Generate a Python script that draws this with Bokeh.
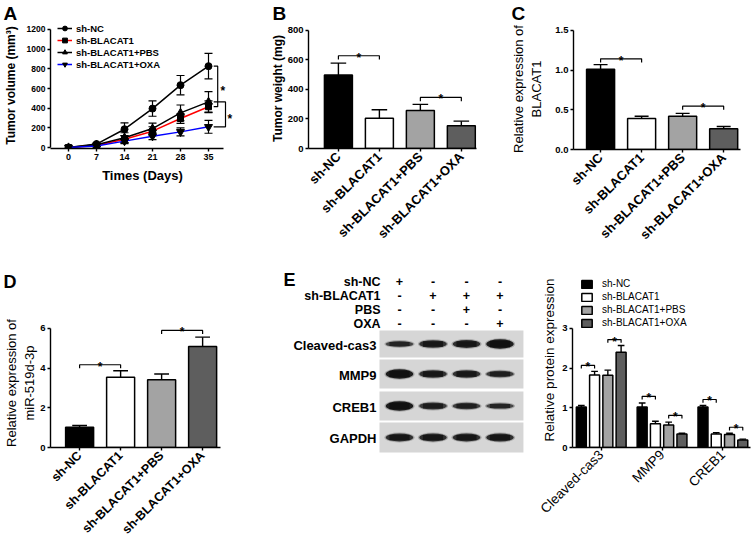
import math
from bokeh.plotting import figure
from bokeh.models import (Range1d, FixedTicker, Legend, LegendItem,
                          PrintfTickFormatter, ColumnDataSource)
from bokeh.layouts import row, column
from bokeh.embed import file_html
from bokeh.resources import INLINE
from bokeh.core.properties import value

FONT = "Liberation Sans"

# ------------------------------------------------------------------ data
days = [0, 7, 14, 21, 28, 35]
vol_nc = [0, 35, 186, 396, 634, 827]
vol_nc_err = [0, 12, 65, 78, 98, 130]
vol_bl = [0, 20, 85, 166, 295, 415]
vol_bl_err = [0, 8, 35, 45, 50, 60]
vol_pbs = [0, 28, 100, 193, 352, 464]
vol_pbs_err = [0, 10, 50, 55, 80, 105]
vol_oxa = [0, 15, 65, 115, 159, 210]
vol_oxa_err = [0, 5, 25, 35, 40, 65]

groups = ["sh-NC", "sh-BLACAT1", "sh-BLACAT1+PBS", "sh-BLACAT1+OXA"]
weight = [496, 205, 257, 153]
weight_err = [81, 57, 41, 32]
blacat1 = [1.01, 0.39, 0.42, 0.26]
blacat1_err = [0.06, 0.03, 0.035, 0.03]
mir519d = [1.02, 3.54, 3.41, 5.09]
mir519d_err = [0.09, 0.33, 0.29, 0.47]

proteins = ["Cleaved-cas3", "MMP9", "CREB1"]
prot_nc = [1.02, 1.02, 1.02]
prot_nc_err = [0.04, 0.10, 0.04]
prot_bl = [1.83, 0.60, 0.34]
prot_bl_err = [0.09, 0.06, 0.03]
prot_pbs = [1.82, 0.57, 0.33]
prot_pbs_err = [0.13, 0.07, 0.03]
prot_oxa = [2.40, 0.34, 0.19]
prot_oxa_err = [0.17, 0.02, 0.02]

# significance brackets: (bar a, bar b, bracket height)
weight_sig = [(0, 1, 627), (2, 3, 345)]
blacat1_sig = [(0, 1, 1.143), (2, 3, 0.546)]
mir_sig = [(0, 1, 4.17), (2, 3, 5.9)]
# (protein group, bar a, bar b, bracket height)
prot_sig = [(0, 0, 1, 2.07), (0, 2, 3, 2.72), (1, 0, 1, 1.29),
            (1, 2, 3, 0.81), (2, 0, 1, 1.21), (2, 2, 3, 0.51)]

# western blot
blot_conditions = ["sh-NC", "sh-BLACAT1", "PBS", "OXA"]
blot_signs = [["+", "-", "-", "-"],
              ["-", "+", "+", "+"],
              ["-", "-", "+", "-"],
              ["-", "-", "-", "+"]]
blot_proteins = ["Cleaved-cas3", "MMP9", "CREB1", "GAPDH"]
band_cas3 = [0.45, 0.72, 0.75, 1.0]
band_mmp9 = [1.0, 0.72, 0.7, 0.55]
band_creb1 = [1.0, 0.6, 0.55, 0.42]
band_gapdh = [0.75, 0.75, 0.75, 0.78]

panel_letters = ["A", "B", "C", "D", "E"]

# ------------------------------------------------------------------ styles
BAR_COLORS = ["black", "white", "#a3a3a3", "#5e5e5e"]


def bare_fig(w, h, xr, yr):
    p = figure(width=w, height=h, x_range=Range1d(*xr), y_range=Range1d(*yr),
               output_backend="svg", toolbar_location=None, min_border=0,
               x_axis_location=None, y_axis_location=None, frame_align=False)
    p.outline_line_color = None
    p.xgrid.visible = False
    p.ygrid.visible = False
    return p


def make_panel(box, frame, xr, yr):
    x0, y0, w, h = box
    fl, ft, fr, fb = frame
    p = figure(width=w, height=h, x_range=Range1d(*xr), y_range=Range1d(*yr),
               output_backend="svg", toolbar_location=None, frame_align=False,
               min_border_left=fl - x0, min_border_right=x0 + w - fr,
               min_border_top=ft - y0, min_border_bottom=y0 + h - fb)
    p.outline_line_color = None
    p.xgrid.visible = False
    p.ygrid.visible = False
    return p


def letter(p, x, y, text, size="19px"):
    p.text(x=[x], y=[y], text=[text], text_align="left", text_baseline="middle",
           text_font=value(FONT), text_font_size=value(size), text_font_style="bold",
           text_color="black")


def style_axis(ax, tick_size, tick_bold=True):
    ax.axis_line_width = 1.4
    ax.axis_line_color = "black"
    ax.major_tick_line_width = 1.4
    ax.major_tick_line_color = "black"
    ax.major_tick_in = 0
    ax.major_tick_out = 3
    ax.minor_tick_line_color = None
    ax.major_label_text_color = "black"
    ax.major_label_text_font = FONT
    ax.major_label_text_font_size = tick_size
    ax.major_label_text_font_style = "bold" if tick_bold else "normal"
    ax.major_label_standoff = 2
    ax.axis_label_text_color = "black"
    ax.axis_label_text_font = FONT


def draw_bars(p, xs, vals, errs, colors, width, cap):
    tops = [v + e for v, e in zip(vals, errs)]
    p.segment(x0=xs, y0=vals, x1=xs, y1=tops, line_color="black", line_width=1.4)
    p.segment(x0=[x - cap for x in xs], y0=tops, x1=[x + cap for x in xs], y1=tops,
              line_color="black", line_width=1.4)
    src = ColumnDataSource(dict(x=xs, top=vals, color=colors))
    return p.vbar(x="x", top="top", width=width, bottom=0, fill_color="color",
                  line_color="black", line_width=1.5, source=src)


def star(p, x, y, size="12px", yoff=2):
    p.text(x=[x], y=[y], text=["*"], text_align="center", text_baseline="alphabetic",
           y_offset=yoff, text_font=value(FONT), text_font_size=value(size),
           text_font_style="bold", text_color="black")


def bracket(p, x0, x1, y, drop, size="12px"):
    p.line([x0, x0, x1, x1], [y - drop, y, y, y - drop], line_color="black", line_width=1.2)
    star(p, (x0 + x1) / 2, y, size)


def bar_panel(box, frame, xr, yr, ybounds, yticks, vals, errs, sig, drop, cap,
              ylabel, ylabel_bold, ylabel_size, ylabel_standoff, xlab_size, fmt=None):
    p = make_panel(box, frame, xr, yr)
    xs = list(range(len(groups)))
    draw_bars(p, xs, vals, errs, BAR_COLORS, 0.683, cap)
    for a, b, h in sig:
        bracket(p, xs[a], xs[b], h, drop)
    style_axis(p.yaxis[0], "9.5px")
    style_axis(p.xaxis[0], xlab_size)
    p.yaxis.ticker = FixedTicker(ticks=yticks)
    p.yaxis.bounds = ybounds
    if fmt:
        p.yaxis.formatter = PrintfTickFormatter(format=fmt)
    p.xaxis.ticker = FixedTicker(ticks=xs)
    p.xaxis.major_label_overrides = {x: g for x, g in zip(xs, groups)}
    p.xaxis.major_label_orientation = math.pi / 4
    p.xaxis.major_label_standoff = 3
    p.yaxis.axis_label = ylabel
    p.yaxis.axis_label_text_font_style = "bold" if ylabel_bold else "normal"
    p.yaxis.axis_label_text_font_size = ylabel_size
    p.yaxis.axis_label_standoff = ylabel_standoff
    return p


# ------------------------------------------------------------------ top strip with letters A-C
strip1 = bare_fig(753, 22, (0, 753), (22, 0))
letter(strip1, 3, 12.5, panel_letters[0])
letter(strip1, 272, 12.5, panel_letters[1])
letter(strip1, 511, 12.5, panel_letters[2])

# ------------------------------------------------------------------ A: tumour volume
pA = make_panel((0, 22, 250, 248), (50, 22, 234, 148), (-4.5, 41.5), (-10, 1271))
vol_series = [
    (vol_nc, vol_nc_err, "black", "circle", 7),
    (vol_bl, vol_bl_err, "red", "square", 6),
    (vol_pbs, vol_pbs_err, "black", "triangle", 8),
    (vol_oxa, vol_oxa_err, "blue", "inverted_triangle", 8),
]
legend_items = []
for name, (v, e, col, mk, sz) in zip(groups, vol_series):
    xe = [d for d, ee in zip(days, e) if ee > 0]
    lo = [vv - ee for vv, ee in zip(v, e) if ee > 0]
    hi = [vv + ee for vv, ee in zip(v, e) if ee > 0]
    pA.segment(x0=xe, y0=lo, x1=xe, y1=hi, line_color="black", line_width=1.2)
    for yy in (lo, hi):
        pA.segment(x0=[x - 1 for x in xe], y0=yy, x1=[x + 1 for x in xe], y1=yy,
                   line_color="black", line_width=1.2)
    lr = pA.line(days, v, line_color=col, line_width=1.5)
    sr = pA.scatter(days, v, marker=mk, size=sz, fill_color="black", line_color="black")
    legend_items.append(LegendItem(label=name, renderers=[lr, sr]))

# significance brackets at day 35
bx1, bx2, tick_x = 37.3, 39.25, 36.3
pA.line([tick_x, bx1, bx1, tick_x], [vol_nc[-1], vol_nc[-1], vol_bl[-1], vol_bl[-1]],
        line_color="black", line_width=1.2)
pA.line([tick_x, bx2, bx2, tick_x], [vol_pbs[-1], vol_pbs[-1], vol_oxa[-1], vol_oxa[-1]],
        line_color="black", line_width=1.2)
star(pA, bx1 + 1.3, (vol_nc[-1] + vol_bl[-1]) / 2, "12px", 5)
star(pA, bx2 + 1.1, (vol_pbs[-1] + vol_oxa[-1]) / 2, "12px", 5)

legA = Legend(items=legend_items, location=(7, 78), padding=0, margin=0, spacing=0,
              label_height=12, glyph_height=12, glyph_width=15, label_standoff=4,
              border_line_alpha=0, background_fill_alpha=0,
              label_text_font=FONT, label_text_font_size="9.5px",
              label_text_font_style="bold", label_text_color="black")
pA.add_layout(legA)
style_axis(pA.xaxis[0], "9px")
style_axis(pA.yaxis[0], "8.5px")
pA.xaxis.ticker = FixedTicker(ticks=days)
pA.xaxis.bounds = (-4.5, 38.75)
pA.yaxis.ticker = FixedTicker(ticks=[0, 200, 400, 600, 800, 1000, 1200])
pA.yaxis.bounds = (0, 1200)
pA.xaxis.axis_label = "Times (Days)"
pA.xaxis.axis_label_text_font_size = "13px"
pA.xaxis.axis_label_text_font_style = "bold"
pA.xaxis.axis_label_standoff = 5
pA.yaxis.axis_label = "Tumor volume (mm³)"
pA.yaxis.axis_label_text_font_size = "12px"
pA.yaxis.axis_label_text_font_style = "bold"
pA.yaxis.axis_label_standoff = 6

# ------------------------------------------------------------------ B: tumour weight
pB = bar_panel((250, 22, 240, 248), (308, 28, 476, 148), (-0.73, 3.37), (0, 811),
               (0, 800), [0, 200, 400, 600, 800], weight, weight_err, weight_sig,
               25, 0.19, "Tumor weight (mg)", True, "12px", 0, "13px")

# ------------------------------------------------------------------ C: BLACAT1
pC = bar_panel((490, 22, 263, 248), (573, 28, 740, 149), (-0.66, 3.41), (0, 1.525),
               (0, 1.5), [0, 0.5, 1.0, 1.5], blacat1, blacat1_err, blacat1_sig,
               0.045, 0.17, "Relative expression of\nBLACAT1", False, "13px", 8,
               "13px", "%.1f")

# ------------------------------------------------------------------ D: miR-519d-3p
stripD = bare_fig(270, 20, (0, 270), (290, 270))
letter(stripD, 3, 281, panel_letters[3], "18px")
pD = bar_panel((0, 290, 270, 254), (50, 318, 220, 447), (-0.71, 3.436), (0, 6.5),
               (0, 6), [0, 2, 4, 6], mir519d, mir519d_err, mir_sig,
               0.18, 0.18, "Relative expression of\nmiR-519d-3p", False, "13px", 0,
               "12.5px")

# ------------------------------------------------------------------ E: western blot (image y units)
pE = bare_fig(265, 274, (-3.851, 4.060), (544, 270))
lanes = [0, 1, 2, 3]
header_y = [281, 295, 309, 323]
pE.text(x=[-0.567] * 4, y=header_y, text=blot_conditions, text_align="right",
        text_baseline="middle", text_font=value(FONT), text_font_size=value("12.5px"),
        text_font_style="bold", text_color="black")
for hy, signs in zip(header_y, blot_signs):
    pE.text(x=lanes, y=[hy] * 4, text=signs, text_align="center", text_baseline="middle",
            text_font=value(FONT), text_font_size=value("12.5px"), text_font_style="bold",
            text_color="black")
panel_top = [330, 359, 391, 422]
panel_bot = [357, 388, 420, 452]
pE.quad(left=-0.597, right=3.70, top=panel_top, bottom=panel_bot,
        fill_color="#d6d6d6", line_color=None)
row_c = [(t + b) / 2 for t, b in zip(panel_top, panel_bot)]
pE.text(x=[-0.687] * 4, y=[c + 1 for c in row_c], text=blot_proteins, text_align="right",
        text_baseline="middle", text_font=value(FONT), text_font_size=value("13px"),
        text_font_style="bold", text_color="black")
for c, bands in zip(row_c, [band_cas3, band_mmp9, band_creb1, band_gapdh]):
    hts = [3 + 6.5 * b for b in bands]
    pE.ellipse(x=lanes, y=[c] * 4, width=0.9, height=[h + 2 for h in hts],
               fill_color="#202020", fill_alpha=0.25, line_color=None)
    pE.ellipse(x=lanes, y=[c] * 4, width=0.82, height=hts, fill_color="#151515",
               fill_alpha=[0.45 + 0.5 * b for b in bands], line_color=None)
    pE.rect(x=lanes, y=[c] * 4, width=0.6, height=[h * 0.7 for h in hts],
            fill_color="#101010", fill_alpha=[0.4 + 0.5 * b for b in bands], line_color=None)
letter(pE, -3.463, 279, panel_letters[4], "18px")

# ------------------------------------------------------------------ E: protein expression bars
pF = make_panel((535, 270, 218, 274), (572, 272, 750, 447), (-0.472, 2.454), (0, 4.411))
gstep, bw = 0.218, 0.164
prot_series = [(prot_nc, prot_nc_err), (prot_bl, prot_bl_err),
               (prot_pbs, prot_pbs_err), (prot_oxa, prot_oxa_err)]
gpos = list(range(len(proteins)))
bar_x = []
items_F = []
for k, ((v, e), name) in enumerate(zip(prot_series, groups)):
    xs = [g + (k - 1.5) * gstep for g in gpos]
    bar_x.append(xs)
    r = draw_bars(pF, xs, v, e, [BAR_COLORS[k]] * len(xs), bw, 0.055)
    items_F.append(LegendItem(label=name, renderers=[r]))
for g, a, b, h in prot_sig:
    bracket(pF, bar_x[a][g], bar_x[b][g], h, 0.08)
legF = Legend(items=items_F, location=(8, 118), padding=0, margin=0, spacing=0,
              label_height=13, glyph_height=10, glyph_width=13, label_standoff=9,
              border_line_alpha=0, background_fill_alpha=0,
              label_text_font=FONT, label_text_font_size="10px", label_text_color="black")
pF.add_layout(legF)
style_axis(pF.yaxis[0], "9.5px")
style_axis(pF.xaxis[0], "13.5px", tick_bold=False)
pF.yaxis.ticker = FixedTicker(ticks=[0, 1, 2, 3])
pF.yaxis.bounds = (0, 3)
pF.xaxis.ticker = FixedTicker(ticks=gpos)
pF.xaxis.major_label_overrides = {g: n for g, n in zip(gpos, proteins)}
pF.xaxis.major_label_orientation = math.pi / 4
pF.yaxis.axis_label = "Relative protein expression"
pF.yaxis.axis_label_text_font_size = "13.5px"
pF.yaxis.axis_label_text_font_style = "normal"
pF.yaxis.axis_label_standoff = 2

layout = column(strip1, row(pA, pB, pC), row(column(stripD, pD), pE, pF))
open("out.html", "w").write(file_html(layout, INLINE))
